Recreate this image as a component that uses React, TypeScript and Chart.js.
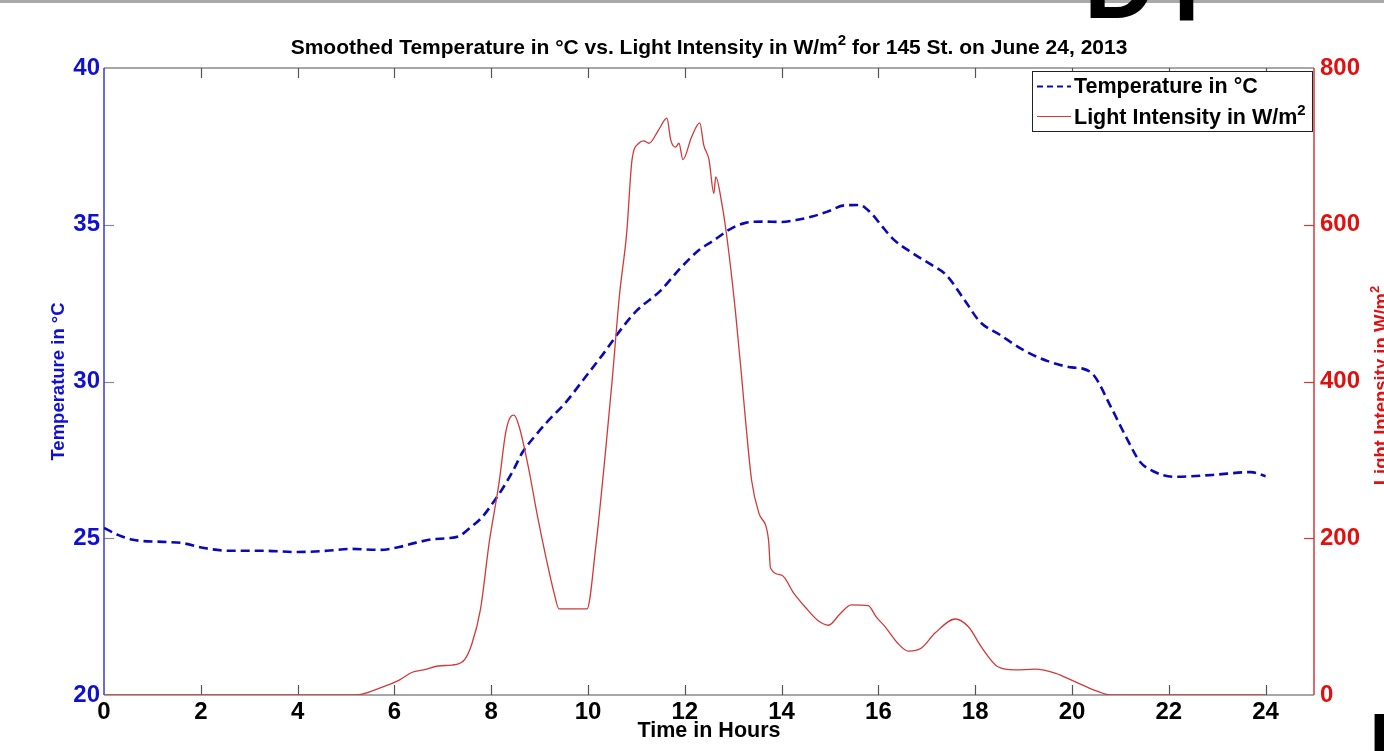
import React, { useEffect, useRef } from 'react';
import { Chart, registerables } from 'chart.js';

Chart.register(...registerables);

// ---------- data ----------
const tempHours = [0, 0.3, 0.6, 1.3, 1.6, 2.1, 2.6, 3.3, 4.0, 4.6, 5.1, 5.7, 6.1, 6.45, 6.8, 7.1, 7.35, 7.6, 7.8, 8.0, 8.2, 8.45, 8.65, 8.9, 9.15, 9.55, 9.9, 10.3, 10.7, 11.0, 11.5, 11.9, 12.3, 12.6, 12.9, 13.25, 13.6, 14.0, 14.3, 14.65, 14.95, 15.3, 15.6, 15.85, 16.05, 16.3, 16.7, 17.1, 17.4, 17.8, 18.1, 18.5, 19.0, 19.5, 20.0, 20.2, 20.45, 20.8, 21.15, 21.4, 21.7, 22.1, 22.9, 23.7, 24.0];
const tempValues = [25.33, 25.1, 24.95, 24.88, 24.85, 24.68, 24.6, 24.6, 24.56, 24.6, 24.66, 24.63, 24.72, 24.86, 24.97, 25.0, 25.08, 25.38, 25.65, 26.05, 26.5, 27.15, 27.75, 28.25, 28.7, 29.35, 30.05, 30.85, 31.7, 32.25, 32.9, 33.6, 34.2, 34.5, 34.83, 35.06, 35.1, 35.09, 35.15, 35.27, 35.42, 35.62, 35.63, 35.37, 35.0, 34.55, 34.1, 33.72, 33.4, 32.55, 31.9, 31.5, 31.0, 30.65, 30.45, 30.42, 30.2, 29.2, 28.13, 27.45, 27.12, 26.96, 27.02, 27.11, 26.98];

const lightHours = [0, 5.2, 5.75, 6.1, 6.37, 6.6, 6.9, 7.28, 7.45, 7.6, 7.78, 7.96, 8.16, 8.3, 8.4, 8.47, 8.58, 8.78, 8.95, 9.13, 9.3, 9.4, 9.98, 10.16, 10.37, 10.5, 10.65, 10.8, 10.91, 11.05, 11.15, 11.26, 11.46, 11.63, 11.71, 11.81, 11.88, 11.96, 12.14, 12.31, 12.39, 12.5, 12.6, 12.64, 12.76, 12.87, 13.05, 13.18, 13.26, 13.38, 13.53, 13.73, 13.77, 14.0, 14.25, 14.49, 14.75, 14.97, 15.2, 15.44, 15.79, 15.95, 16.14, 16.4, 16.62, 16.89, 17.17, 17.59, 17.86, 18.13, 18.47, 18.82, 19.24, 19.65, 20.06, 20.47, 20.8, 24.0];
const lightValues = [0, 0, 10, 19, 29, 32, 37, 39, 45, 65, 110, 195, 270, 335, 355, 357, 342, 287, 230, 176, 130, 110, 110, 189, 316, 402, 510, 590, 683, 704, 707, 704, 721, 736, 708, 699, 704, 683, 712, 730, 702, 683, 640, 661, 629, 584, 487, 402, 347, 274, 232, 198, 162, 153, 130, 112, 95, 89, 103, 115, 114, 100, 87, 66, 56, 60, 79, 97, 87, 61, 36, 32, 33, 28, 17, 6, 0, 0];

const xTickValues = [0, 2, 4, 6, 8, 10, 12, 14, 16, 18, 20, 22, 24];
const tempTickValues = [20, 25, 30, 35, 40];
const lightTickValues = [0, 200, 400, 600, 800];

const titleMain = 'Smoothed Temperature in °C vs. Light Intensity in W/m';
const titleTail = ' for 145 St. on June 24, 2013';
const tempLabel = 'Temperature in °C';
const lightLabel = 'Light Intensity in W/m';
const xLabel = 'Time in Hours';

const FONT = '"Liberation Sans", Arial, sans-serif';
const BLUE = '#0a0ab4';
const BLUE_TXT = '#1010d0';
const RED = '#d03a3a';
const RED_TXT = '#e01010';

type Part = { t: string; sup?: boolean };

function drawParts(ctx: CanvasRenderingContext2D, parts: Part[], x: number, y: number, size: number, align: 'left' | 'center', color: string) {
  ctx.fillStyle = color;
  ctx.textBaseline = 'alphabetic';
  ctx.textAlign = 'left';
  const supSize = Math.round(size * 0.72);
  let total = 0;
  for (const p of parts) {
    ctx.font = `bold ${p.sup ? supSize : size}px ${FONT}`;
    total += ctx.measureText(p.t).width;
  }
  let cx = align === 'center' ? x - total / 2 : x;
  for (const p of parts) {
    ctx.font = `bold ${p.sup ? supSize : size}px ${FONT}`;
    ctx.fillText(p.t, cx, p.sup ? y - size * 0.42 : y);
    cx += ctx.measureText(p.t).width;
  }
}

const matlabPlugin = {
  id: 'matlabFrame',
  beforeDatasetsDraw(chart: any) {
    const { ctx, chartArea: a, scales } = chart;
    const xs = scales.x, yt = scales.yT, yl = scales.yL;
    ctx.save();
    const seg = (x1: number, y1: number, x2: number, y2: number) => {
      ctx.beginPath();
      ctx.moveTo(x1, y1);
      ctx.lineTo(x2, y2);
      ctx.stroke();
    };
    ctx.lineWidth = 1.5;
    ctx.strokeStyle = '#8a8a8a';
    seg(a.left, a.top, a.right, a.top);
    seg(a.left, a.bottom, a.right, a.bottom);
    ctx.strokeStyle = '#555';
    ctx.lineWidth = 1.2;
    for (const v of xTickValues) {
      const px = Math.round(xs.getPixelForValue(v)) + 0.5;
      if (v !== 0) {
        seg(px, a.bottom, px, a.bottom - 10);
        seg(px, a.top, px, a.top + 10);
      }
    }
    ctx.strokeStyle = '#8a8a8a';
    for (const v of tempTickValues) {
      if (v === 20 || v === 40) continue;
      const py = Math.round(yt.getPixelForValue(v)) + 0.5;
      seg(a.left, py, a.left + 10, py);
    }
    ctx.strokeStyle = RED;
    for (const v of lightTickValues) {
      if (v === 0 || v === 800) continue;
      const py = Math.round(yl.getPixelForValue(v)) + 0.5;
      seg(a.right, py, a.right - 10, py);
    }
    ctx.lineWidth = 1.5;
    ctx.strokeStyle = '#3a3ac4';
    seg(a.left, a.top, a.left, a.bottom);
    ctx.strokeStyle = RED;
    seg(a.right, a.top, a.right, a.bottom);
    ctx.restore();
  },
  afterDraw(chart: any) {
    const { ctx, chartArea: a } = chart;
    ctx.save();
    const cx = (a.left + a.right) / 2;
    // title
    drawParts(ctx, [{ t: titleMain }, { t: '2', sup: true }, { t: titleTail }], cx, 54, 21, 'center', '#000');
    // x axis title
    drawParts(ctx, [{ t: xLabel }], cx, 737, 21.5, 'center', '#000');
    // left axis title
    ctx.save();
    ctx.translate(64, (a.top + a.bottom) / 2);
    ctx.rotate(-Math.PI / 2);
    drawParts(ctx, [{ t: tempLabel }], 0, 0, 18.5, 'center', BLUE_TXT);
    ctx.restore();
    // right axis title
    ctx.save();
    ctx.translate(1387, (a.top + a.bottom) / 2 + 4);
    ctx.rotate(-Math.PI / 2);
    drawParts(ctx, [{ t: lightLabel }, { t: '2', sup: true }], 0, 0, 18.5, 'center', RED_TXT);
    ctx.restore();
    // legend
    ctx.fillStyle = '#fff';
    ctx.fillRect(1032, 72, 280, 59);
    ctx.strokeStyle = '#222';
    ctx.lineWidth = 1;
    ctx.strokeRect(1032.5, 71.5, 280, 60);
    ctx.lineWidth = 1.8;
    ctx.strokeStyle = BLUE;
    ctx.setLineDash([6, 4]);
    ctx.beginPath();
    ctx.moveTo(1037, 86.5);
    ctx.lineTo(1071, 86.5);
    ctx.stroke();
    ctx.setLineDash([]);
    ctx.lineWidth = 1.2;
    ctx.strokeStyle = RED;
    ctx.beginPath();
    ctx.moveTo(1037, 116.5);
    ctx.lineTo(1071, 116.5);
    ctx.stroke();
    drawParts(ctx, [{ t: tempLabel }], 1074, 93, 21.5, 'left', '#000');
    drawParts(ctx, [{ t: lightLabel }, { t: '2', sup: true }], 1074, 124, 21.5, 'left', '#000');
    ctx.restore();
  },
};

export default function App() {
  const ref = useRef<HTMLCanvasElement | null>(null);
  useEffect(() => {
    if (!ref.current) return;
    const tempData = tempHours.map((h, i) => ({ x: h, y: tempValues[i] }));
    const lightData = lightHours.map((h, i) => ({ x: h, y: lightValues[i] }));
    const tickFont = { family: FONT, weight: 'bold' as const, size: 24 };
    const chart = new Chart(ref.current, {
      type: 'line',
      data: {
        datasets: [
          {
            label: 'Light Intensity in W/m²',
            data: lightData,
            yAxisID: 'yL',
            borderColor: RED,
            borderWidth: 1.3,
            pointRadius: 0,
            cubicInterpolationMode: 'monotone',
            fill: false,
          },
          {
            label: 'Temperature in °C',
            data: tempData,
            yAxisID: 'yT',
            borderColor: BLUE,
            borderWidth: 2.6,
            borderDash: [9, 5],
            pointRadius: 0,
            cubicInterpolationMode: 'monotone',
            fill: false,
          },
        ],
      },
      options: {
        animation: false,
        responsive: false,
        devicePixelRatio: 1,
        layout: { padding: { top: 68, left: 0, right: 0, bottom: 0 } },
        plugins: { legend: { display: false }, title: { display: false }, tooltip: { enabled: false } },
        scales: {
          x: {
            type: 'linear',
            min: 0,
            max: 25,
            grid: { display: false, drawTicks: false },
            border: { display: false },
            ticks: {
              stepSize: 2,
              includeBounds: false,
              autoSkip: false,
              maxRotation: 0,
              font: tickFont,
              color: '#000',
              padding: 3,
              callback: (v: any) => (xTickValues.includes(Number(v)) ? String(v) : ''),
            },
            afterFit: (s: any) => { s.height = 56; },
          },
          yT: {
            type: 'linear',
            position: 'left',
            min: 20,
            max: 40,
            grid: { display: false, drawTicks: false },
            border: { display: false },
            ticks: { stepSize: 5, font: tickFont, color: BLUE_TXT, padding: 4 },
            afterFit: (s: any) => { s.width = 104; },
          },
          yL: {
            type: 'linear',
            position: 'right',
            min: 0,
            max: 800,
            grid: { display: false, drawTicks: false },
            border: { display: false },
            ticks: { stepSize: 200, font: tickFont, color: RED_TXT, padding: 6 },
            afterFit: (s: any) => { s.width = 70; },
          },
        },
      },
      plugins: [matlabPlugin],
    });
    return () => chart.destroy();
  }, []);

  return (
    <div style={{ position: 'fixed', left: 0, top: 0, width: 1384, height: 751, overflow: 'hidden', background: '#fff' }}>
      <canvas ref={ref} width={1384} height={751} style={{ position: 'absolute', left: 0, top: 0, width: 1384, height: 751 }} />
      <div style={{ position: 'absolute', left: 0, top: 0, width: 1384, height: 3, background: '#a8a8a8' }} />
      <svg width={1384} height={751} style={{ position: 'absolute', left: 0, top: 0, pointerEvents: 'none' }}>
        <text x={1084} y={18} fontFamily={FONT} fontWeight="bold" fontSize={98} fill="#000">D</text>
        <text x={1173} y={20} fontFamily={FONT} fontWeight="bold" fontSize={98} fill="#000">l</text>
        <text x={1368} y={782} fontFamily={FONT} fontWeight="bold" fontSize={98} fill="#000">R</text>
      </svg>
    </div>
  );
}
